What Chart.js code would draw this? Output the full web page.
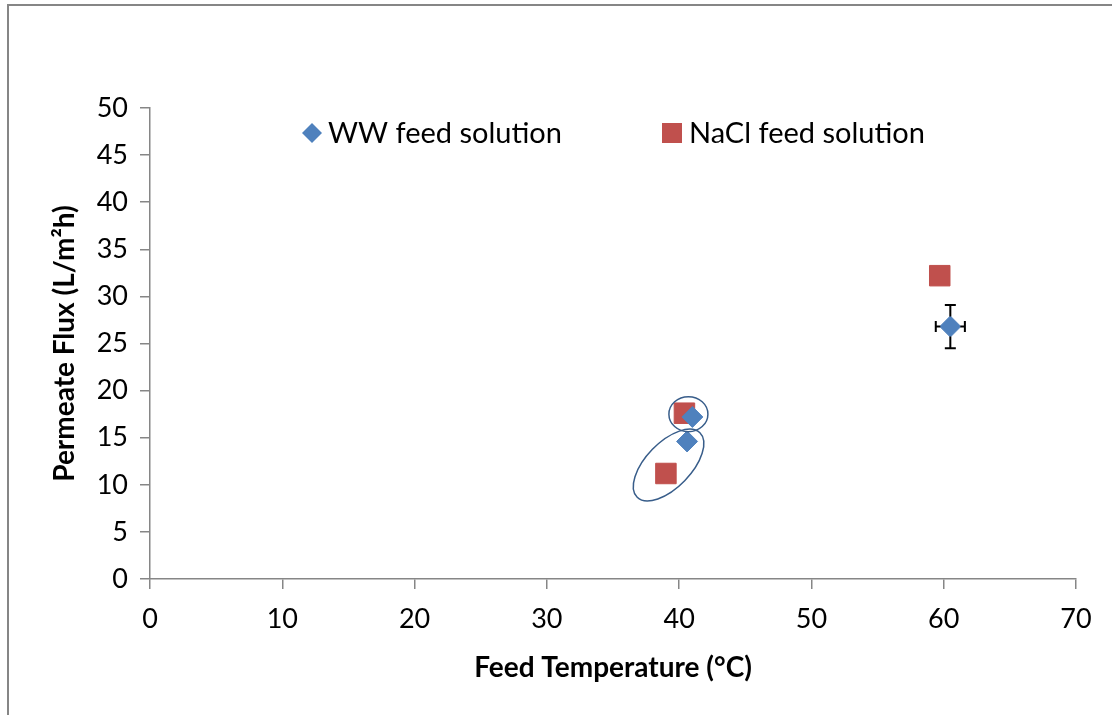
<!DOCTYPE html>
<html>
<head>
<meta charset="utf-8">
<script src="https://cdn.jsdelivr.net/npm/chart.js@4"></script>
<style>
  html, body { margin: 0; padding: 0; background: #fff; }
  #wrap { position: relative; width: 1112px; height: 715px; overflow: hidden; }
  #frame { position: absolute; left: 7px; top: 4px; right: -10px; bottom: -10px;
           border-left: 2px solid #868686; border-top: 2px solid #868686; }
  canvas { position: absolute; left: 0; top: 0; }
</style>
</head>
<body>
<div id="wrap">
  <div id="frame"></div>
  <canvas id="chart" width="1112" height="715"></canvas>
</div>
<script>
// data
const wwTemp = [60.5, 40.6, 41.0];
const wwFlux = [26.8, 14.6, 17.2];
const wwErrTemp = [1.1, 0, 0];
const wwErrFlux = [2.3, 0, 0];

const naclTemp = [59.7, 40.4, 39.0];
const naclFlux = [32.2, 17.6, 11.2];

const xTicksMax = 70;
const yTicksMax = 50;

const wwColor = '#4F81BD';
const naclColor = '#C0504D';
const axisColor = '#868686';
const fontFamily = 'Lato, "Open Sans", sans-serif';

// the two hand drawn ellipses (centre in data units, radii in px, angle in rad)
const rings = [
  { x: 40.7, y: 17.5, rx: 19.5, ry: 17.5, rot: 0 },
  { x: 39.2, y: 12.1, rx: 45, ry: 22.5, rot: -0.8 }
];

function toPoints(xs, ys) {
  return xs.map((x, i) => ({ x: x, y: ys[i] }));
}

// error bars for the WW series
const errorBars = {
  id: 'errorBars',
  afterDatasetsDraw(chart) {
    const ctx = chart.ctx;
    const xs = chart.scales.x, ys = chart.scales.y;
    ctx.save();
    ctx.strokeStyle = '#000';
    ctx.lineWidth = 2;
    const cap = 5.5;
    wwTemp.forEach((t, i) => {
      const px = xs.getPixelForValue(t);
      const py = ys.getPixelForValue(wwFlux[i]);
      if (wwErrFlux[i]) {
        const y1 = ys.getPixelForValue(wwFlux[i] + wwErrFlux[i]);
        const y2 = ys.getPixelForValue(wwFlux[i] - wwErrFlux[i]);
        ctx.beginPath();
        ctx.moveTo(px, y1); ctx.lineTo(px, py - 10);
        ctx.moveTo(px, py + 10); ctx.lineTo(px, y2);
        ctx.moveTo(px - cap, y1); ctx.lineTo(px + cap, y1);
        ctx.moveTo(px - cap, y2); ctx.lineTo(px + cap, y2);
        ctx.stroke();
      }
      if (wwErrTemp[i]) {
        const x1 = xs.getPixelForValue(t - wwErrTemp[i]);
        const x2 = xs.getPixelForValue(t + wwErrTemp[i]);
        ctx.beginPath();
        ctx.moveTo(x1, py); ctx.lineTo(px - 10, py);
        ctx.moveTo(px + 10, py); ctx.lineTo(x2, py);
        ctx.moveTo(x1, py - cap); ctx.lineTo(x1, py + cap);
        ctx.moveTo(x2, py - cap); ctx.lineTo(x2, py + cap);
        ctx.stroke();
      }
    });
    ctx.restore();
  }
};

// ellipses and the in-plot legend
const extras = {
  id: 'extras',
  afterDraw(chart) {
    const ctx = chart.ctx;
    const xs = chart.scales.x, ys = chart.scales.y;
    const area = chart.chartArea;
    ctx.save();
    ctx.strokeStyle = '#385D8A';
    ctx.lineWidth = 1.5;
    rings.forEach(r => {
      ctx.beginPath();
      ctx.ellipse(xs.getPixelForValue(r.x), ys.getPixelForValue(r.y), r.rx, r.ry, r.rot, 0, Math.PI * 2);
      ctx.stroke();
    });

    const ly = area.top + 25;
    ctx.font = '29px ' + fontFamily;
    ctx.textBaseline = 'middle';
    // WW entry
    let mx = area.left + 162;
    ctx.fillStyle = wwColor;
    ctx.beginPath();
    ctx.moveTo(mx - 10, ly); ctx.lineTo(mx, ly - 10); ctx.lineTo(mx + 10, ly); ctx.lineTo(mx, ly + 10);
    ctx.closePath();
    ctx.fill();
    ctx.fillStyle = '#000';
    ctx.fillText(chart.data.datasets[0].label, mx + 16, ly + 1);
    // NaCl entry
    mx = area.left + 522;
    ctx.fillStyle = naclColor;
    ctx.fillRect(mx - 10, ly - 10, 20, 20);
    ctx.fillStyle = '#000';
    ctx.fillText(chart.data.datasets[1].label, mx + 17, ly + 1);
    ctx.restore();
  }
};

const tickFont = { family: fontFamily, size: 27 };
const titleFont = { family: fontFamily, size: 28, weight: 'bold' };

new Chart(document.getElementById('chart'), {
  type: 'scatter',
  data: {
    datasets: [
      {
        label: 'WW feed solution',
        data: toPoints(wwTemp, wwFlux),
        pointStyle: 'rectRot',
        pointRadius: 10.5,
        backgroundColor: wwColor,
        borderColor: wwColor,
        borderWidth: 1
      },
      {
        label: 'NaCl feed solution',
        data: toPoints(naclTemp, naclFlux),
        pointStyle: 'rect',
        pointRadius: 14.5,
        backgroundColor: naclColor,
        borderColor: naclColor,
        borderWidth: 1
      }
    ]
  },
  options: {
    responsive: false,
    animation: false,
    layout: { padding: { top: 108, right: 36, left: 0, bottom: 0 } },
    plugins: {
      legend: { display: false },
      tooltip: { enabled: false }
    },
    scales: {
      x: {
        type: 'linear',
        min: 0,
        max: xTicksMax,
        afterFit(scale) { scale.height = 136; },
        ticks: { stepSize: 10, color: '#000', font: tickFont, padding: 14, maxRotation: 0 },
        grid: { drawOnChartArea: false, drawTicks: true, tickLength: 10, color: axisColor, lineWidth: 1.5 },
        border: { color: axisColor, width: 1.5 },
        title: { display: true, text: 'Feed Temperature (°C)', color: '#000', font: titleFont,
                 padding: { top: 0, bottom: 30 } }
      },
      y: {
        type: 'linear',
        min: 0,
        max: yTicksMax,
        afterFit(scale) { scale.width = 150; },
        ticks: { stepSize: 5, color: '#000', font: tickFont, padding: 12 },
        grid: { drawOnChartArea: false, drawTicks: true, tickLength: 10, color: axisColor, lineWidth: 1.5 },
        border: { color: axisColor, width: 1.5 },
        title: { display: true, text: 'Permeate Flux (L/m²h)', color: '#000', font: titleFont,
                 padding: { top: 48, bottom: 0 } }
      }
    }
  },
  plugins: [errorBars, extras]
});
</script>
</body>
</html>
